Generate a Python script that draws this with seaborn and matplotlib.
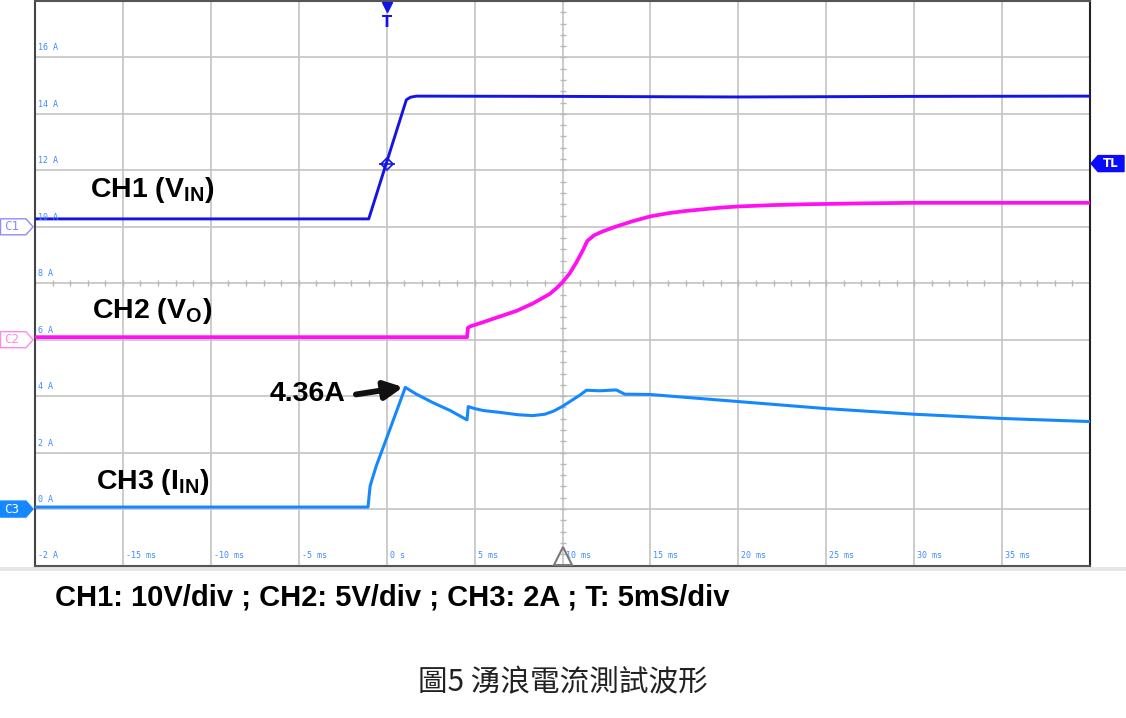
import numpy as np
import pandas as pd
import matplotlib
matplotlib.use("Agg")
import matplotlib.pyplot as plt
import seaborn as sns
from matplotlib.patches import Polygon, Rectangle
from matplotlib.transforms import blended_transform_factory, offset_copy, IdentityTransform

# ---------------- data (time in ms, screen units "A") ----------------
ch1_t = [-20.0, -1.02, 1.12, 1.35, 1.70, 10.0, 20.0, 30.0, 40.0]
ch1_v = [10.28, 10.28, 14.50, 14.59, 14.63, 14.62, 14.60, 14.62, 14.63]

ch2_t = [-20.0, 4.57, 4.62, 4.75, 5.48, 6.43, 7.38, 8.30, 9.27, 9.65, 9.99,
         10.41, 10.79, 11.16, 11.41, 11.8, 12.3, 13.0, 14.0, 15.0, 16.0, 17.0,
         18.0, 19.0, 20.0, 22.0, 24.0, 27.0, 30.0, 40.0]
ch2_v = [6.09, 6.09, 6.42, 6.47, 6.62, 6.82, 7.02, 7.28, 7.62, 7.82, 8.03,
         8.35, 8.74, 9.17, 9.50, 9.70, 9.84, 10.00, 10.20, 10.37, 10.48, 10.56,
         10.62, 10.68, 10.72, 10.77, 10.80, 10.83, 10.85, 10.85]

ch3_t = [-20.0, -1.06, -1.00, -0.94, -0.59, -0.02, 1.06, 1.69, 2.63, 3.58, 4.57,
         4.64, 5.0, 5.5, 6.5, 7.5, 8.3, 9.0, 9.5, 10.0, 10.5, 11.0, 11.36,
         12.11, 13.06, 13.54, 14.96, 19.96, 24.97, 29.97, 34.98, 40.0]
ch3_v = [0.07, 0.07, 0.46, 0.82, 1.53, 2.48, 4.31, 4.07, 3.77, 3.50, 3.16,
         3.63, 3.56, 3.49, 3.42, 3.34, 3.31, 3.36, 3.47, 3.64, 3.84, 4.04, 4.21,
         4.19, 4.22, 4.07, 4.06, 3.81, 3.56, 3.36, 3.21, 3.10]

channel_levels = [10, 6, 0]          # ground markers C1, C2, C3
trigger_time = 0.0
trigger_level = 12.24
peak_time, peak_value, peak_label = 1.06, 4.31, "4.36A"
center_time, center_amp = 10, 8

time_ticks = [-20, -15, -10, -5, 0, 5, 10, 15, 20, 25, 30, 35, 40]
time_labels = ["", "-15 ms", "-10 ms", "-5 ms", "0 s", "5 ms", "10 ms", "15 ms",
               "20 ms", "25 ms", "30 ms", "35 ms", ""]
amp_ticks = [-2, 0, 2, 4, 6, 8, 10, 12, 14, 16, 18]
amp_labels = ["-2 A", "0 A", "2 A", "4 A", "6 A", "8 A", "10 A", "12 A", "14 A", "16 A", ""]

footer = "CH1: 10V/div ; CH2: 5V/div ; CH3: 2A ; T: 5mS/div"
caption = "圖5 湧浪電流測試波形"

# ---------------- style ----------------
sns.set_theme(style="white")
plt.rcParams['font.family'] = ['Liberation Sans', 'Noto Sans CJK TC', 'DejaVu Sans']
plt.rcParams['mathtext.fontset'] = 'custom'
plt.rcParams['mathtext.rm'] = 'Liberation Sans'
plt.rcParams['mathtext.bf'] = 'Liberation Sans:bold'

C1_COL = "#1414e8"
C2_COL = "#ff10f0"
C3_COL = "#1688ff"
LBL_COL = "#3d8bff"
GRID = "#c4c4c4"

W, H = 1126, 718
fig = plt.figure(figsize=(W / 100, H / 100), dpi=100)
left_px, right_px, top_px, bot_px = 35, 1090, 1, 565.5
ax = fig.add_axes([left_px / W, 1 - bot_px / H, (right_px - left_px) / W, (bot_px - top_px) / H])
ax.set_xlim(-20, 40)
ax.set_ylim(-2, 18)

# light strip under the screen
fig.add_artist(Rectangle((0, H - 571), W, 4, fc="#e6e6e6", ec="none", transform=IdentityTransform(), zorder=0))

# grid
ax.set_xticks(time_ticks)
ax.set_yticks(amp_ticks)
ax.set_xticklabels([])
ax.set_yticklabels([])
ax.tick_params(length=0)
ax.grid(True, color=GRID, lw=1.2)
ax.set_axisbelow(True)
for side, col in [("top", "#555555"), ("left", "#444444"), ("right", "#222222"), ("bottom", "#555555")]:
    ax.spines[side].set_visible(True)
    ax.spines[side].set_color(col)
    ax.spines[side].set_linewidth(1.5)

# center-axis minor ticks
mt = np.arange(-20, 40.01, 1.0)
ax.plot(mt, np.full_like(mt, center_amp), ls="none", marker="|", ms=4, mew=1.0, color="#b8b8b8", zorder=1)
ma = np.arange(-2, 18.01, 0.4)
ax.plot(np.full_like(ma, center_time), ma, ls="none", marker="_", ms=4, mew=1.0, color="#b8b8b8", zorder=1)

# traces
df = pd.concat([
    pd.DataFrame({"t": ch1_t, "v": ch1_v, "ch": "CH1"}),
    pd.DataFrame({"t": ch2_t, "v": ch2_v, "ch": "CH2"}),
    pd.DataFrame({"t": ch3_t, "v": ch3_v, "ch": "CH3"}),
], ignore_index=True)
pal = {"CH1": C1_COL, "CH2": C2_COL, "CH3": C3_COL}
sns.lineplot(data=df, x="t", y="v", hue="ch", palette=pal, estimator=None,
             sort=False, legend=False, linewidth=2.1, ax=ax, zorder=3)
for ln, w in zip(ax.lines[-3:], [2.1, 2.7, 2.2]):
    ln.set_linewidth(w)
    ln.set_solid_joinstyle("round")
ax.set_xlabel("")
ax.set_ylabel("")

# trigger point marker on CH1
ax.plot([trigger_time], [trigger_level], marker="D", ms=6, mfc="none", mec=C1_COL, mew=1.2, zorder=4)
ax.plot([trigger_time], [trigger_level], marker="_", ms=11, mew=1.2, color=C1_COL, zorder=4)

# in-plot scale labels
ya = blended_transform_factory(ax.transAxes, ax.transData)
for v, lab in zip(amp_ticks, amp_labels):
    if lab:
        ax.text(0, v, lab, transform=offset_copy(ya, fig=fig, x=3, y=5, units="dots"),
                fontsize=6, family="DejaVu Sans Mono", color=LBL_COL, va="bottom", ha="left", zorder=5)
xa = blended_transform_factory(ax.transData, ax.transAxes)
for t, lab in zip(time_ticks, time_labels):
    if lab:
        ax.text(t, 0, lab, transform=offset_copy(xa, fig=fig, x=3, y=5, units="dots"),
                fontsize=6, family="DejaVu Sans Mono", color=LBL_COL, va="bottom", ha="left", zorder=5)

# top trigger marker and bottom position marker
ax.plot([trigger_time], [0.989], transform=xa, marker="v", ms=7, color=C1_COL, clip_on=False, zorder=6)
ax.text(trigger_time, 0.962, "T", transform=xa, ha="center", va="center", fontsize=10.5,
        fontweight="bold", family="DejaVu Sans", color=C1_COL, zorder=6)
ax.plot([center_time], [0.016], transform=xa, marker="^", ms=13, mfc="none", mec="#7a7a7a",
        mew=1.5, clip_on=False, zorder=6)

# channel labels
lab_kw = dict(fontsize=20.5, fontweight="bold", color="black", va="baseline", ha="left", zorder=7)
ax.text(-16.89, 11.07, r"CH1 (V$_{\mathbf{IN}}$)", **lab_kw)
ax.text(-16.78, 6.76, r"CH2 (V$_{\mathbf{O}}$)", **lab_kw)
ax.text(-16.55, 0.71, r"CH3 (I$_{\mathbf{IN}}$)", **lab_kw)

# peak annotation
ax.text(-2.33, 3.83, peak_label, fontsize=20.5, fontweight="bold", color="black",
        ha="right", va="baseline", zorder=7)
ax.annotate("", xy=(peak_time - 0.12, peak_value + 0.01), xytext=(-1.75, 4.06),
            arrowprops=dict(arrowstyle="-|>,head_length=1.0,head_width=0.5", lw=4.2,
                            color="#111111", shrinkA=0, shrinkB=0, mutation_scale=11), zorder=7)

# channel ground markers (left) and trigger-level marker (right)
fig.canvas.draw()
def ypix(level):
    return ax.transData.transform((0, level))[1]

def left_marker(level, text, fc, ec, tc):
    yc = ypix(level)
    hh = 8
    verts = [(0.5, yc - hh), (26, yc - hh), (33, yc), (26, yc + hh), (0.5, yc + hh)]
    fig.add_artist(Polygon(verts, closed=True, fc=fc, ec=ec, lw=1.0, transform=IdentityTransform()))
    fig.text(4 / W, yc / H, text, fontsize=9, family="DejaVu Sans Mono", color=tc, va="center", ha="left")

left_marker(channel_levels[0], "C1", "white", "#8c8cff", "#8c8cff")
left_marker(channel_levels[1], "C2", "white", "#ff88ee", "#ff88ee")
left_marker(channel_levels[2], "C3", C3_COL, C3_COL, "white")

yc = ypix(trigger_level)
verts = [(1091, yc), (1098, yc - 8), (1124, yc - 8), (1124, yc + 8), (1098, yc + 8)]
fig.add_artist(Polygon(verts, closed=True, fc="#0a0aff", ec="#0a0aff", lw=1.0, transform=IdentityTransform()))
fig.text(1111 / W, yc / H, "TL", fontsize=8.5, fontweight="bold", family="DejaVu Sans",
         color="white", va="center", ha="center")

# footer texts
fig.text(55 / W, 1 - 605 / H, footer, fontsize=21, fontweight="bold", color="black",
         ha="left", va="baseline")
fig.text(563 / W, 1 - 683 / H, caption, fontsize=21.3, color="#222222",
         family=["Noto Sans CJK TC", "DejaVu Sans"], ha="center", va="center")

fig.savefig("out.png", dpi=100, facecolor="white")
